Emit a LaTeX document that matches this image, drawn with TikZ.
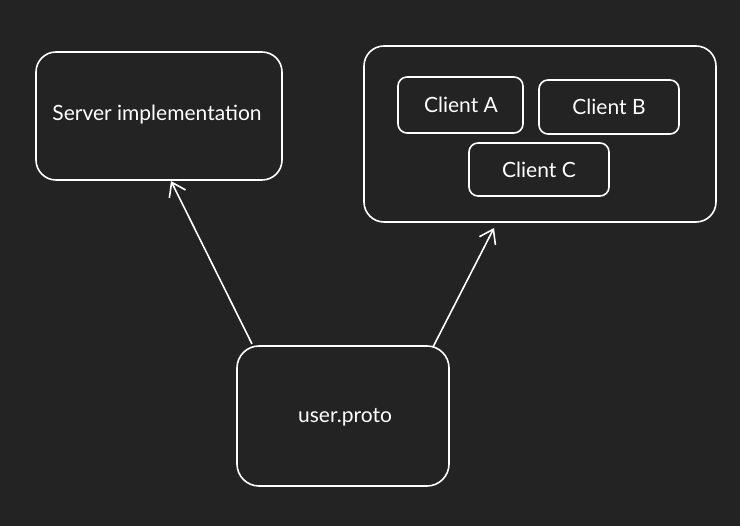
\documentclass[tikz,border=0pt]{standalone}
\usepackage{fontspec}
\setmainfont{Lato}
\usetikzlibrary{arrows.meta}
\definecolor{bg}{HTML}{232323}
\tikzset{
  box/.style={draw=white, line width=1.6pt, rounded corners=#1, text=white},
  box/.default=18pt,
  lbl/.style={text=white, font=\fontsize{21}{24}\selectfont},
  conn/.style={draw=white, line width=1.6pt, -{Straight Barb[length=13pt,width=18pt,line width=1.6pt]}}
}
\begin{document}
\begin{tikzpicture}[x=1pt,y=-1pt]
\fill[bg] (0,0) rectangle (740,526);
\useasboundingbox (0,0) rectangle (740,526);
% boxes
\draw[box=20pt] (36,52) rectangle (282,180);
\node[lbl] (server) at (157,115) {Server implementation};
\coordinate (serverS) at (171,181);
\draw[box=20pt] (364,46) rectangle (716,222);
\coordinate (clientsS) at (494,228);
\draw[box=9pt] (398,77) rectangle (523,133);
\node[lbl] (ca) at (461,105) {Client A};
\draw[box=9pt] (539,80) rectangle (679,134);
\node[lbl] (cb) at (609,107) {Client B};
\draw[box=9pt] (469,143) rectangle (609,196);
\node[lbl] (cc) at (539,170) {Client C};
\draw[box=22pt] (237,346) rectangle (449,486);
\node[lbl] (proto) at (345,417) {user.proto};
\coordinate (protoL) at (252,344);
\coordinate (protoR) at (433,347);
% connectors
\draw[conn] (protoL) -- (serverS);
\draw[conn] (protoR) -- (clientsS);
\end{tikzpicture}
\end{document}
